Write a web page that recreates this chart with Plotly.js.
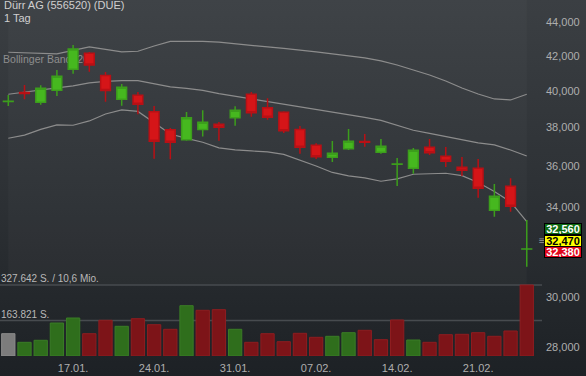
<!DOCTYPE html>
<html>
<head>
<meta charset="utf-8">
<script src="https://cdn.plot.ly/plotly-3.0.1.min.js"></script>
<style>
html,body{margin:0;padding:0;}
body{width:586px;height:376px;overflow:hidden;background:linear-gradient(to bottom,#3b3f43 0%,#2c3034 55%,#1d2125 100%);}
#chart{width:586px;height:376px;}
</style>
</head>
<body>
<div id="chart"></div>
<script>
// ---- data ----
const dates = ['11.01.','12.01.','13.01.','14.01.','17.01.','18.01.','19.01.','20.01.','21.01.',
  '24.01.','25.01.','26.01.','27.01.','28.01.','31.01.','01.02.','02.02.','03.02.','04.02.',
  '07.02.','08.02.','09.02.','10.02.','11.02.','14.02.','15.02.','16.02.','17.02.','18.02.',
  '21.02.','22.02.','23.02.','24.02.'];
const openP  = [39410,39906,39365,40029,41216,42145,40862,39530,39751,38854,37893,37368,37903,38178,38531,39806,39071,38822,37903,37078,36464,36903,37270,36719,36110,35910,36975,36515,35960,35910,33871,35022,32090];
const highP  = [39767,40325,40308,41176,42634,42221,41061,40381,39934,39163,37982,38838,38930,38301,39147,39934,39585,38876,38088,37181,37301,37929,37666,37405,36429,36939,37405,36990,36479,36378,35134,35414,33416];
const lowP   = [39163,39530,39234,39712,40964,41078,39399,39180,38713,36393,36362,37316,37535,37316,38104,38584,38424,37719,36647,36378,36227,36836,37006,36647,35036,35642,36581,35975,35528,34471,33571,33805,31314];
const closeP = [39420,39850,40140,40816,42397,41463,40018,40196,39256,37285,37233,38531,38285,38019,38930,38800,38552,37840,36975,36494,36668,37285,37240,37026,36126,36821,36698,36262,35811,34924,34538,34060,32095];
const volume = [102900,63200,72500,152300,175400,102900,164700,137000,172100,144400,123200,232100,210900,213700,123200,63200,102900,66000,104700,86300,90900,107500,118600,75200,166100,73800,63200,98300,100100,107500,90900,115400,327642];
const bbUpper  = [42203,42180,42144,42103,42309,42516,42368,42221,42262,42575,42842,42854,42842,42806,42723,42634,42516,42427,42338,42221,42103,41986,41870,41695,41463,41176,40890,40551,40157,39823,39547,39492,39807];
const bbMiddle = [39807,39934,40045,40157,40269,40438,40522,40567,40567,40410,40213,40129,40018,39840,39696,39547,39399,39256,39114,38968,38827,38681,38541,38381,38115,37861,37693,37536,37353,37197,37094,36837,36531];
const bbLower  = [37442,37604,37904,38141,38125,38354,38730,38946,38865,38274,37666,37431,37234,36940,36837,36786,36735,36607,36328,36026,35701,35528,35429,35266,35380,35612,35637,35661,35542,35208,34769,34265,33338];
const tickLabels = ['17.01.','24.01.','31.01.','07.02.','14.02.','21.02.'];
const priceTicks = [28000,30000,34000,36000,38000,40000,42000,44000];
const quoteLabels = ['32,560','32,470','32,380'];
const lastPrice = 32470;
const titleText = 'Dürr AG (556520) (DUE)';
const periodText = '1 Tag';
const bbLabel = 'Bollinger Band: 20';
const turnoverText = '10,6 Mio.';

// ---- derived ----
const idx = dates.map((d,i)=>i);
const tickIdx = tickLabels.map(l=>dates.indexOf(l));
const GREEN_V='#2f6e1c', RED_V='#7d1418', GRAY_V='#7c7c7c';
const volColors = closeP.map((c,i)=> i===0 ? GRAY_V : (c>=closeP[i-1]?GREEN_V:RED_V));
const volLine = volColors.map(c=> c===GREEN_V?'#3a7d26':(c===RED_V?'#8e1d20':'#8c8c8c'));
const vMax = Math.max(...volume);
const fmtDE = v => Math.round(v).toString().replace(/\B(?=(\d{3})+(?!\d))/g,'.');
const logRange=[4.44172,4.65693];
const font='Liberation Sans, Arial, sans-serif';
const bbStyle={color:'#8c8c8c',width:1.2};

const traces=[
  {type:'scatter',mode:'lines',x:idx,y:bbUpper,line:bbStyle,yaxis:'y',hoverinfo:'skip'},
  {type:'scatter',mode:'lines',x:idx,y:bbMiddle,line:bbStyle,yaxis:'y',hoverinfo:'skip'},
  {type:'scatter',mode:'lines',x:idx,y:bbLower,line:bbStyle,yaxis:'y',hoverinfo:'skip'},
  {type:'scatter',mode:'text',x:[-0.32],y:[41753],text:[bbLabel],textposition:'middle right',
   textfont:{family:font,size:10.5,color:'#8e8e8e'},yaxis:'y',hoverinfo:'skip'},
  {type:'bar',x:idx,y:volume,yaxis:'y2',width:0.82,
   marker:{color:volColors,line:{color:volLine,width:1}},hoverinfo:'skip'},
  {type:'candlestick',x:idx,open:openP,high:highP,low:lowP,close:closeP,yaxis:'y3',
   whiskerwidth:0,
   increasing:{line:{color:'#3c9e1c',width:1.5},fillcolor:'#46b81f'},
   decreasing:{line:{color:'#b81015',width:1.5},fillcolor:'#d51518'},
   hoverinfo:'skip'}
];

const yShiftBox=11.3;
const boxStyles=[
  {bg:'#0f6a12',fg:'#ffffff',shift:yShiftBox},
  {bg:'#ffff00',fg:'#000000',shift:0},
  {bg:'#e0061c',fg:'#ffffff',shift:-yShiftBox}
];
const annotations=[
  {xref:'paper',yref:'paper',x:0,y:1,xanchor:'left',yanchor:'top',xshift:3,yshift:2,showarrow:false,
   borderpad:0,text:titleText,font:{family:font,size:11,color:'#cfcfcf'}},
  {xref:'paper',yref:'paper',x:0,y:1,xanchor:'left',yanchor:'top',xshift:3,yshift:-11,showarrow:false,
   borderpad:0,text:periodText,font:{family:font,size:11,color:'#cfcfcf'}},
  {xref:'paper',yref:'y2',x:0,y:vMax,xanchor:'left',yanchor:'bottom',xshift:-1,yshift:-1,showarrow:false,
   text:fmtDE(vMax)+' S. / '+turnoverText,font:{family:font,size:10,color:'#b9b9b9'}},
  {xref:'paper',yref:'y2',x:0,y:vMax/2,xanchor:'left',yanchor:'bottom',xshift:-1,yshift:-1,showarrow:false,
   text:fmtDE(vMax/2)+' S.',font:{family:font,size:10,color:'#b9b9b9'}},
  {xref:'paper',yref:'y',x:1,y:Math.log10(lastPrice),xanchor:'center',yanchor:'middle',showarrow:false,
   text:'≡',font:{family:font,size:10,color:'#9a9a9a'}}
];
quoteLabels.forEach((t,i)=>{
  const s=boxStyles[i];
  annotations.push({xref:'paper',yref:'y',x:1,y:Math.log10(lastPrice),xanchor:'left',yanchor:'middle',
    xshift:2,yshift:s.shift,showarrow:false,text:'<b>'+t+'</b>',
    font:{family:font,size:11,color:s.fg},bgcolor:s.bg,bordercolor:'#000',borderwidth:1,borderpad:0,
    width:36,height:10});
});

const layout={
  width:586,height:376,
  margin:{l:0,r:44,t:0,b:20},
  paper_bgcolor:'rgba(0,0,0,0)',plot_bgcolor:'rgba(0,0,0,0)',
  showlegend:false,hovermode:false,
  bargap:0.18,boxgap:0.14,
  xaxis:{type:'linear',range:[-0.512,32.94],tickvals:tickIdx,ticktext:tickLabels,
    showgrid:false,zeroline:false,showline:false,ticks:'',ticklabelstandoff:4,
    tickfont:{family:font,size:11,color:'#aeaeae'},rangeslider:{visible:false},fixedrange:true},
  yaxis:{type:'log',range:logRange,side:'right',tickvals:priceTicks,
    ticktext:priceTicks.map(v=>v.toLocaleString('en-US')),
    showgrid:false,zeroline:false,showline:false,ticks:'',ticklabelstandoff:3,
    tickfont:{family:font,size:11,color:'#aeaeae'},fixedrange:true},
  yaxis2:{overlaying:'y',range:[0,1642800],visible:false,fixedrange:true},
  yaxis3:{overlaying:'y',type:'log',range:logRange,visible:false,fixedrange:true},
  shapes:[
    {type:'rect',xref:'x',yref:'paper',x0:0,x1:32,y0:0.2,y1:1,fillcolor:'rgba(255,255,255,0.025)',line:{width:0},layer:'below'},
    {type:'line',xref:'paper',yref:'y2',x0:0,x1:1,y0:vMax,y1:vMax,line:{color:'#474b4f',width:1.5},layer:'below'},
    {type:'line',xref:'paper',yref:'y2',x0:0,x1:1,y0:vMax/2,y1:vMax/2,line:{color:'#474b4f',width:1.5},layer:'below'}
  ],
  annotations:annotations
};
Plotly.newPlot('chart',traces,layout,{staticPlot:true,displayModeBar:false});
</script>
</body>
</html>
